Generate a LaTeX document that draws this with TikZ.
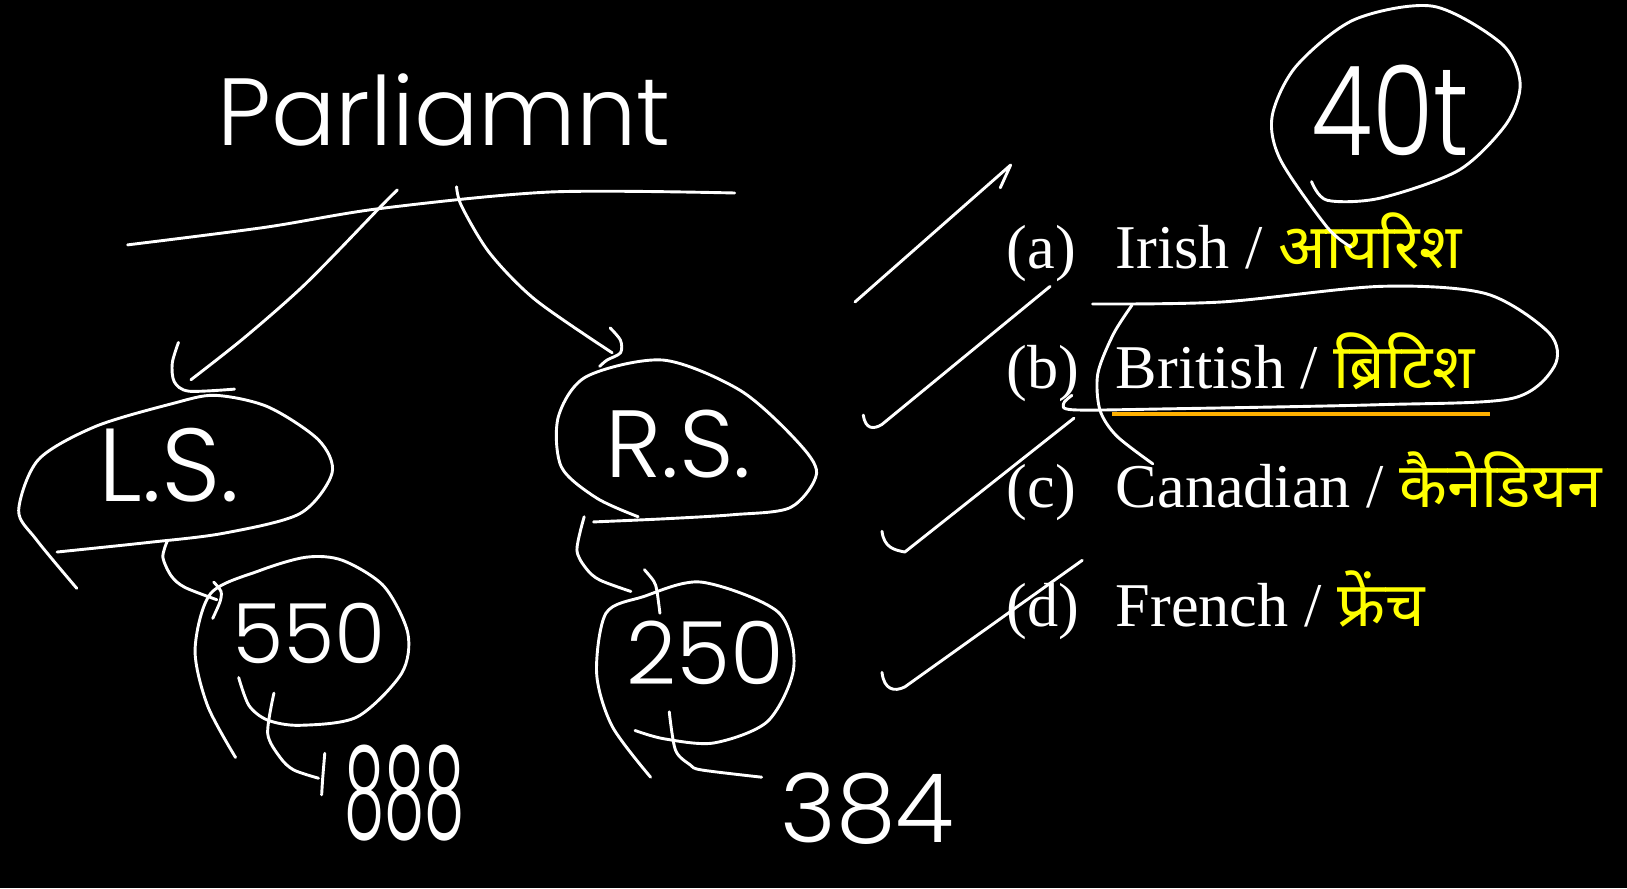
\documentclass[tikz,border=0pt]{standalone}
\usepackage{fontspec}
\setmainfont{Liberation Serif}
\newfontfamily\devafont[Script=Devanagari]{Noto Sans}
\newfontfamily\handfont{Poppins Light}
\usetikzlibrary{positioning}
\definecolor{hiyellow}{RGB}{255,255,0}
\definecolor{hiorange}{RGB}{255,176,0}

\begin{document}
\begin{tikzpicture}[x=0.5pt,y=-0.5pt,
  ink/.style={draw=white,line width=1.4pt,line cap=round,line join=round},
  hand/.style={text=white,inner sep=0pt,font=\handfont\fontsize{#1}{#1}\selectfont},
  option/.style={text=white,anchor=base west,inner sep=0pt,
    font=\fontsize{30}{36}\selectfont},
  hindi/.style={text=hiyellow,font=\devafont\bfseries}]
  \fill[black] (0,0) rectangle (1568,856);
  % handwritten labels
  \node[hand=46,anchor=base] (parl) at (428,140) {Parliamnt};
  \node[hand=50] (ls) at (163,448) {L.S.};
  \node[hand=46] (rs) at (654,428) {R.S.};
  \node[hand=40] (lsn) at (298,610) {550};
  \node[hand=42] (rsn) at (680,629) {250};
  \node[hand=62,xscale=0.5,anchor=base] (lstot) at (390,808) {888};
  \node[hand=46,anchor=base] (rstot) at (836,812) {384};
  \node[hand=60,xscale=0.8] (fourty) at (1340,106) {40t};
  % printed options
  \node[option] (opta) at (970,259) {\makebox[52.5pt][l]{(a)}Irish / {\devafont\bfseries\color{hiyellow}आयरिश}};
  \node[option] (optb) at (970,374) {\makebox[52.5pt][l]{(b)}British / {\devafont\bfseries\color{hiyellow}ब्रिटिश}};
  \node[option] (optc) at (970,489) {\makebox[52.5pt][l]{(c)}Canadian / {\devafont\bfseries\color{hiyellow}कैनेडियन}};
  \node[option] (optd) at (970,604) {\makebox[52.5pt][l]{(d)}French / {\devafont\bfseries\color{hiyellow}फ्रेंच}};
  \draw[hiorange,line width=1.5pt] (1072,399) -- (1436,399);
  % tree strokes
  \draw[ink] plot[smooth] coordinates {(123,236) (256,219) (366,201) (531,185) (708,186)};
  \draw[ink] plot[smooth] coordinates {(383,183) (366,200) (295,273) (236,325) (184,366)};
  \draw[ink] plot[smooth] coordinates {(172,330) (166,350) (168,368) (182,377) (226,375)};
  \draw[ink] plot[smooth] coordinates {(440,180) (445,199) (472,244) (516,289) (590,340)};
  \draw[ink] plot[smooth] coordinates {(588,316) (598,328) (598,340) (585,347) (578,353)};
  \draw[ink] plot[smooth] coordinates {(74,567) (35,520) (18,492) (37,443) (92,411) (166,389)
    (207,381) (258,392) (307,424) (320,456) (289,495) (215,514) (141,523) (55,532)};
  \draw[ink] plot[smooth] coordinates {(161,522) (157,537) (165,555) (178,566) (209,578)};
  \draw[ink] plot[smooth] coordinates {(206,561) (213,570) (212,580) (205,596)};
  \draw[ink] plot[smooth] coordinates {(230,653) (240,680) (258,694) (289,699) (344,691) (387,649)
    (393,610) (370,565) (330,540) (295,537) (250,550) (203,572) (188,626) (200,680) (227,730)};
  \draw[ink] plot[smooth] coordinates {(264,668) (258,707) (270,730) (283,742) (307,750)};
  \draw[ink] plot[smooth] coordinates {(313,726) (311,750) (310,766)};
  \draw[ink] plot[smooth] coordinates {(572,503) (640,500) (707,496) (762,489) (787,456) (767,424)
    (713,376) (639,347) (565,363) (538,402) (541,450) (575,480) (615,498)};
  \draw[ink] plot[smooth] coordinates {(563,498) (556,530) (565,548) (578,559) (608,570)};
  \draw[ink] plot[smooth] coordinates {(621,549) (630,560) (633,569) (636,591)};
  \draw[ink] plot[smooth] coordinates {(612,704) (640,712) (688,716) (740,695) (765,643) (750,590)
    (676,561) (620,575) (584,591) (575,649) (590,700) (627,749)};
  \draw[ink] plot[smooth] coordinates {(645,686) (651,723) (665,737) (676,742) (734,749)};
  % ticks
  \draw[ink] (964,181) -- (974,159) -- (824,291);
  \draw[ink] (832,400) .. controls (834,414) and (842,414) .. (850,409) -- (1012,276);
  \draw[ink] (850,512) .. controls (852,528) and (862,530) .. (872,532) -- (1035,403);
  \draw[ink] (850,648) .. controls (852,665) and (862,667) .. (872,662) -- (1043,540);
  % loops on the options
  \draw[ink] plot[smooth] coordinates {(1033,381) (1025,389) (1035,395) (1127,394) (1330,390)
    (1457,384) (1498,353) (1493,321) (1432,283) (1330,276) (1178,291) (1053,293)};
  \draw[ink] plot[smooth] coordinates {(1091,294) (1073,322) (1058,360) (1060,395) (1076,420) (1111,447)};
  \draw[ink] plot[smooth] coordinates {(1264,175) (1279,193) (1330,191) (1406,164) (1452,119)
    (1465,80) (1447,42) (1381,6) (1305,19) (1249,64) (1226,112) (1234,154) (1279,219) (1302,238)};
\end{tikzpicture}
\end{document}
